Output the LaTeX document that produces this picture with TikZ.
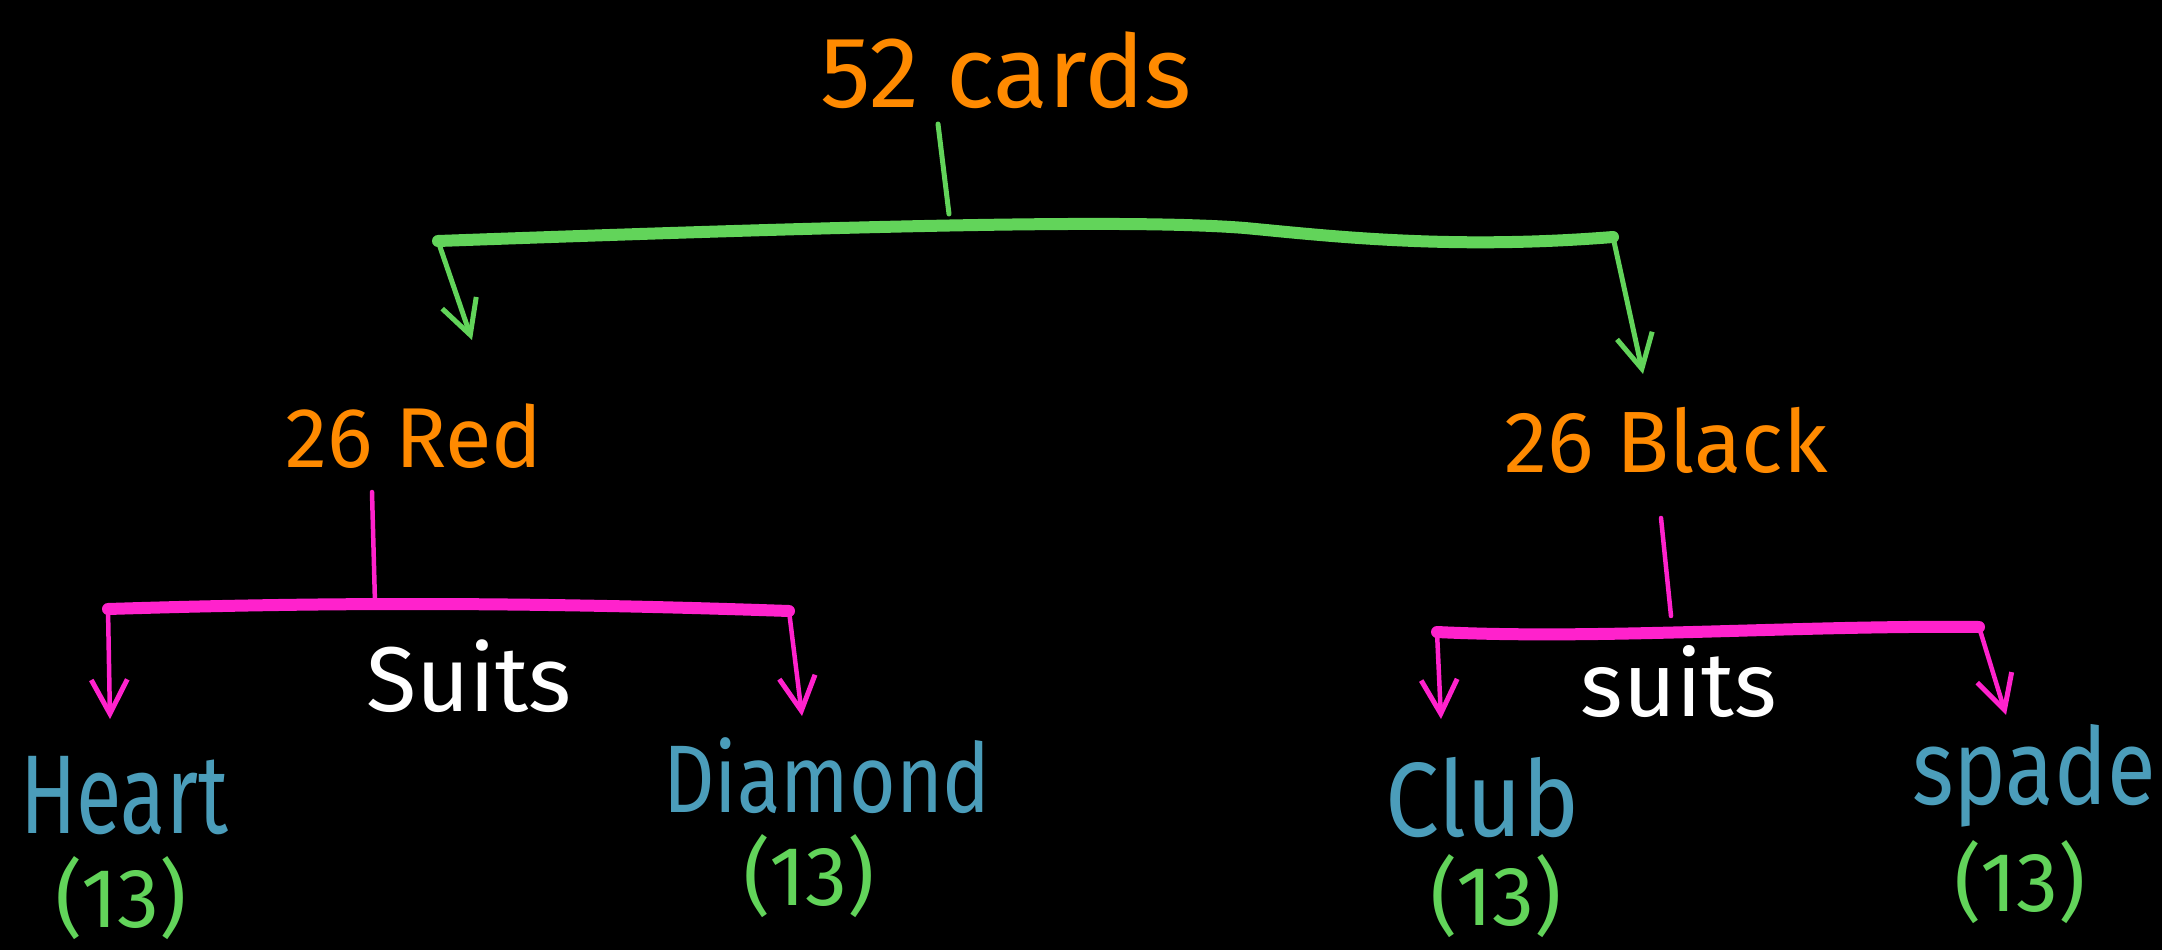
\documentclass[tikz,border=0pt]{standalone}
\usepackage{fontspec}
\usepackage{graphicx}
\setmainfont{Fira Sans}
\usetikzlibrary{arrows.meta}
\definecolor{cardorange}{HTML}{FF8A00}
\definecolor{linkgreen}{HTML}{62D45A}
\definecolor{suitpink}{HTML}{FF22CC}
\definecolor{suitteal}{HTML}{4B9DBA}
\newcommand{\tallword}[2][1.3]{\scalebox{1}[#1]{#2}}
\tikzset{
  label/.style={inner sep=0pt, anchor=center},
  total/.style={label, text=cardorange, font=\fontsize{101}{110}\selectfont},
  colour/.style={label, text=cardorange, font=\fontsize{#1}{#1}\selectfont},
  suit/.style={label, text=suitteal, font=\fontsize{#1}{#1}\selectfont},
  count/.style={label, text=linkgreen, font=\fontsize{84}{90}\selectfont},
  note/.style={label, text=white, font=\fontsize{#1}{#1}\selectfont},
  greenbar/.style={draw=linkgreen, line width=12pt, line cap=round},
  greenstem/.style={draw=linkgreen, line width=5pt, line cap=round},
  pinkbar/.style={draw=suitpink, line width=12pt, line cap=round},
  pinkstem/.style={draw=suitpink, line width=4.5pt, line cap=round},
  drop/.style={-{Straight Barb[length=34pt, width=36pt, line width=5pt]}},
}
\begin{document}
\begin{tikzpicture}[x=1pt, y=-1pt]
  \fill[black] (0,0) rectangle (2162,950);
  \useasboundingbox (0,0) rectangle (2162,950);

  % labels
  \node[total]      (deck)  at (1006,70)  {52 cards};
  \node[colour=85]  (red)   at (414,436)  {26 Red};
  \node[colour=87]  (black) at (1666,440) {26 Black};
  \node[note=92]    (suitsL) at (469,676) {Suits};
  \node[note=91]    (suitsR) at (1679,682) {suits};
  \node[suit=83]    (heart)   at (124,796)  {\tallword[1.35]{Heart}};
  \node[suit=80]    (diamond) at (827,776)  {\tallword[1.2]{Diamond}};
  \node[suit=96]    (club)    at (1482,798) {\tallword[1.1]{Club}};
  \node[suit=89]    (spade)   at (2034,776) {\tallword[1.2]{spade}};
  \node[count]  (nheart)   at (121,898)  {(13)};
  \node[count]  (ndiamond) at (809,876)  {(13)};
  \node[count]  (nclub)    at (1496,896) {(13)};
  \node[count]  (nspade)   at (2020,882) {(13)};

  % first split: by colour
  \coordinate (gtop) at (938,124);
  \coordinate (g0) at (949,214);
  \coordinate (gL) at (438,241);
  \coordinate (gR) at (1613,237);
  \coordinate (gLend) at (472,340);
  \coordinate (gRend) at (1643,374);
  \draw[greenstem] (gtop) -- (g0);
  \draw[greenbar] (gL) .. controls (800,228) and (1120,218) .. (1245,228)
                       .. controls (1330,236) and (1450,250) .. (gR);
  \draw[greenstem, drop] (gL) -- (gLend);
  \draw[greenstem, drop] (gR) -- (gRend);

  % second split: red suits
  \coordinate (pLtop) at (372,492);
  \coordinate (pL0) at (375,603);
  \coordinate (pLa) at (108,609);
  \coordinate (pLb) at (789,611);
  \coordinate (pLaend) at (110,719);
  \coordinate (pLbend) at (802,716);
  \draw[pinkstem] (pLtop) -- (pL0);
  \draw[pinkbar] (pLa) .. controls (300,603) and (500,601) .. (pLb);
  \draw[pinkstem, drop] (pLa) -- (pLaend);
  \draw[pinkstem, drop] (pLb) -- (pLbend);

  % second split: black suits
  \coordinate (pRtop) at (1661,518);
  \coordinate (pR0) at (1671,616);
  \coordinate (pRa) at (1437,632);
  \coordinate (pRb) at (1979,627);
  \coordinate (pRaend) at (1441,719);
  \coordinate (pRbend) at (2006,715);
  \draw[pinkstem] (pRtop) -- (pR0);
  \draw[pinkbar] (pRa) .. controls (1600,640) and (1800,625) .. (pRb);
  \draw[pinkstem, drop] (pRa) -- (pRaend);
  \draw[pinkstem, drop] (pRb) -- (pRbend);
\end{tikzpicture}
\end{document}
